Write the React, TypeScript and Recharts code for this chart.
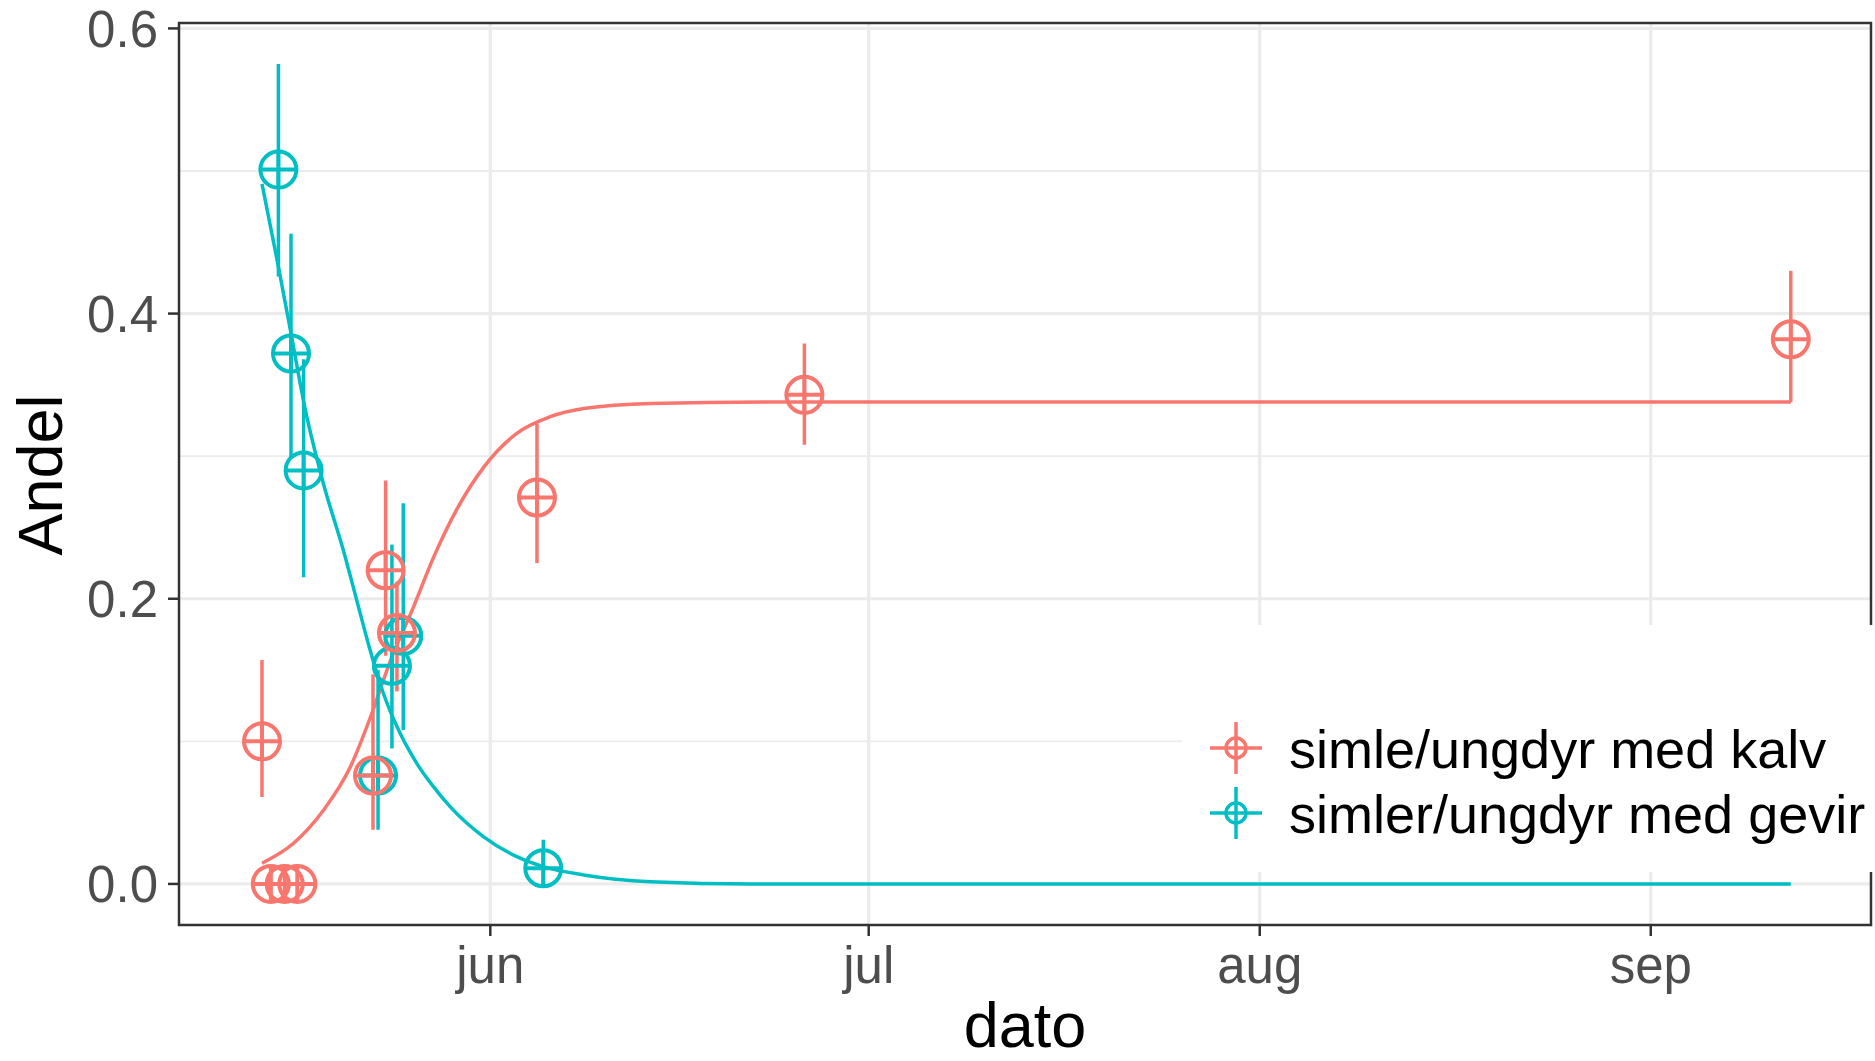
import { ComposedChart, Line, Scatter, ErrorBar, XAxis, YAxis, CartesianGrid, ReferenceArea } from "recharts";

const FONT = '"Liberation Sans", Arial, Helvetica, sans-serif';
const RED = "#F8766D";
const CYAN = "#00BFC4";

// dato as day of year (1 Jun = 152)
const monthTicks = [152, 182, 213, 244];
const monthLabels = ["jun", "jul", "aug", "sep"];
const yTicks = [0, 0.2, 0.4, 0.6];
const yMinor = [0.1, 0.3, 0.5];

const seriesNames = ["simle/ungdyr med kalv", "simler/ungdyr med gevir"];

// simle/ungdyr med kalv: observed share with interval
const kalvDay = [133.9, 134.6, 135.7, 136.7, 142.7, 143.7, 144.6, 155.7, 176.9, 255.1];
const kalvShare = [0.1, 0, 0, 0, 0.076, 0.22, 0.176, 0.271, 0.343, 0.382];
const kalvLow = [0.061, 0, 0, 0, 0.038, 0.16, 0.135, 0.225, 0.308, 0.338];
const kalvHigh = [0.157, 0, 0, 0, 0.147, 0.283, 0.212, 0.323, 0.379, 0.43];

// simler/ungdyr med gevir
const gevirDay = [135.2, 136.2, 137.2, 143.1, 144.2, 145.1, 156.2];
const gevirShare = [0.501, 0.372, 0.29, 0.076, 0.153, 0.174, 0.011];
const gevirLow = [0.426, 0.299, 0.215, 0.038, 0.095, 0.108, 0];
const gevirHigh = [0.575, 0.456, 0.368, 0.15, 0.238, 0.267, 0.031];

// fitted curves
const kalvFitDay = [133.9, 136.4, 138.8, 140.9, 142.5, 144.1, 145.9, 147.5, 149.3, 151.5, 154.1, 156.7, 159.4, 164.7, 175, 255.1];
const kalvFit = [0.0145, 0.0285, 0.052, 0.082, 0.117, 0.157, 0.194, 0.229, 0.262, 0.2925, 0.316, 0.3275, 0.3334, 0.337, 0.338, 0.338];
const gevirFitDay = [133.9, 135.2, 136.2, 137.3, 138.76, 140.35, 141.41, 142.47, 143.52, 144.85, 146.17, 147.49, 148.81, 151.45, 154.1, 156.2, 159.4, 164.7, 172.8, 255.1];
const gevirFit = [0.491, 0.433, 0.386, 0.334, 0.281, 0.234, 0.199, 0.164, 0.1337, 0.1056, 0.0846, 0.0682, 0.0542, 0.0332, 0.0191, 0.0121, 0.0063, 0.0016, 0, 0];

const toPoints = (days: number[], share: number[], lo: number[], hi: number[]) =>
  days.map((d, i) => ({ d, v: share[i], err: [share[i] - lo[i], hi[i] - share[i]] }));
const toCurve = (days: number[], vals: number[]) => days.map((d, i) => ({ d, v: vals[i] }));

const kalvPoints = toPoints(kalvDay, kalvShare, kalvLow, kalvHigh);
const gevirPoints = toPoints(gevirDay, gevirShare, gevirLow, gevirHigh);
const kalvCurve = toCurve(kalvFitDay, kalvFit);
const gevirCurve = toCurve(gevirFitDay, gevirFit);

const xDomain = [127.32, 261.46];
const yDomain = [-0.0288, 0.6038];

const target = (color: string) => (props: any) => {
  const { cx, cy } = props;
  const r = 18;
  return (
    <g>
      <circle cx={cx} cy={cy} r={r} fill="none" stroke={color} strokeWidth={4} />
      <line x1={cx - r} x2={cx + r} y1={cy} y2={cy} stroke={color} strokeWidth={4} />
      <line x1={cx} x2={cx} y1={cy - r} y2={cy + r} stroke={color} strokeWidth={4} />
    </g>
  );
};

const XTick = (props: any) => {
  const { x, y, payload } = props;
  return (
    <text x={x} y={y} dy={45} textAnchor="middle" fill="#4D4D4D" fontSize={51} fontFamily={FONT}>
      {monthLabels[monthTicks.indexOf(payload.value)]}
    </text>
  );
};

const YTick = (props: any) => {
  const { x, y, payload } = props;
  return (
    <text x={x} y={y} dy="0.36em" textAnchor="end" fill="#4D4D4D" fontSize={51} fontFamily={FONT}>
      {Number(payload.value).toFixed(1)}
    </text>
  );
};

const LegendBox = () => (
  <div style={{ position: "absolute", left: 1182, top: 625, width: 693, height: 247, background: "#fff" }}>
    <svg width={693} height={247}>
      {seriesNames.map((name, i) => {
        const color = i === 0 ? RED : CYAN;
        const cy = 123 + i * 65;
        const cx = 54;
        return (
          <g key={name}>
            <circle cx={cx} cy={cy} r={10} fill="none" stroke={color} strokeWidth={3.5} />
            <line x1={cx - 26} x2={cx + 26} y1={cy} y2={cy} stroke={color} strokeWidth={3.5} />
            <line x1={cx} x2={cx} y1={cy - 26} y2={cy + 26} stroke={color} strokeWidth={3.5} />
            <text x={107} y={cy + 20} fontSize={54} fontFamily={FONT} fill="#000">
              {name}
            </text>
          </g>
        );
      })}
    </svg>
  </div>
);

export default function App() {
  return (
    <div style={{ position: "relative", width: 1875, height: 1061, background: "#fff", fontFamily: FONT }}>
      <style>{"body{margin:0}"}</style>
      <ComposedChart width={1875} height={1061} margin={{ top: 23, right: 4, bottom: 0, left: 0 }}>
        <CartesianGrid horizontalValues={yMinor} vertical={false} stroke="#EBEBEB" strokeWidth={1.8} />
        <CartesianGrid horizontalValues={yTicks} verticalValues={monthTicks} stroke="#EBEBEB" strokeWidth={3.2} />
        <XAxis
          type="number"
          dataKey="d"
          domain={xDomain}
          allowDataOverflow
          ticks={monthTicks}
          interval={0}
          height={136}
          tick={XTick}
          tickSize={11}
          tickMargin={2}
          tickLine={{ stroke: "#333333", strokeWidth: 2.5 }}
          axisLine={false}
        />
        <YAxis
          type="number"
          dataKey="v"
          domain={yDomain}
          allowDataOverflow
          ticks={yTicks}
          interval={0}
          width={179}
          tick={YTick}
          tickSize={11}
          tickMargin={10}
          tickLine={{ stroke: "#333333", strokeWidth: 2.5 }}
          axisLine={false}
        />
        <ReferenceArea
          x1={xDomain[0]}
          x2={xDomain[1]}
          y1={yDomain[0]}
          y2={yDomain[1]}
          fill="none"
          fillOpacity={0}
          stroke="#333333"
          strokeWidth={2.5}
          ifOverflow="visible"
        />
        <Line data={kalvCurve} dataKey="v" type="monotone" stroke={RED} strokeWidth={3.5} dot={false} activeDot={false} isAnimationActive={false} />
        <Line data={gevirCurve} dataKey="v" type="monotone" stroke={CYAN} strokeWidth={3.5} dot={false} activeDot={false} isAnimationActive={false} />
        <Scatter data={gevirPoints} dataKey="v" fill={CYAN} shape={target(CYAN)} isAnimationActive={false}>
          <ErrorBar dataKey="err" direction="y" width={0} stroke={CYAN} strokeWidth={3.5} isAnimationActive={false} />
        </Scatter>
        <Scatter data={kalvPoints} dataKey="v" fill={RED} shape={target(RED)} isAnimationActive={false}>
          <ErrorBar dataKey="err" direction="y" width={0} stroke={RED} strokeWidth={3.5} isAnimationActive={false} />
        </Scatter>
      </ComposedChart>
      <svg width={1875} height={1061} style={{ position: "absolute", left: 0, top: 0, pointerEvents: "none" }}>
        <text x={1025} y={1047} textAnchor="middle" fontSize={63} fontFamily={FONT} fill="#000">
          dato
        </text>
        <text transform="translate(62,475) rotate(-90)" textAnchor="middle" fontSize={63} fontFamily={FONT} fill="#000">
          Andel
        </text>
      </svg>
      <LegendBox />
    </div>
  );
}
